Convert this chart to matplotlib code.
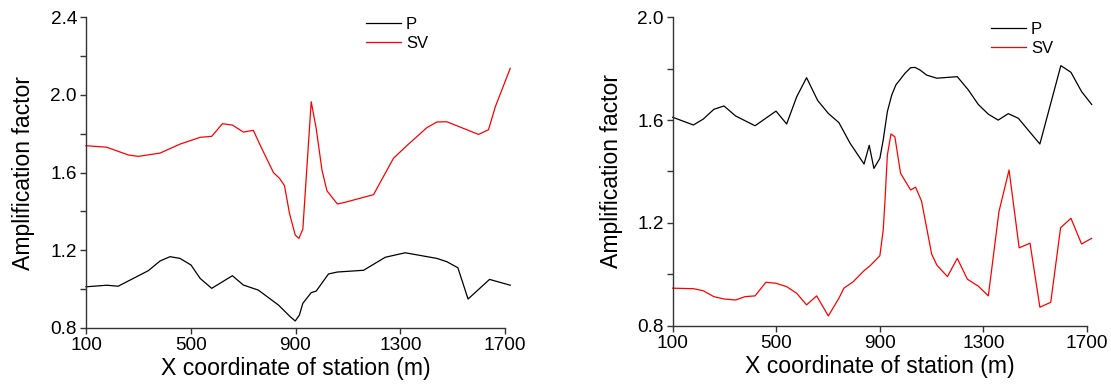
import numpy as np
import matplotlib
matplotlib.use('Agg')
import matplotlib.pyplot as plt
from matplotlib.ticker import MultipleLocator

plt.rcParams['font.family'] = ['Liberation Sans', 'DejaVu Sans']

# 左图数据
x_p1 = [100, 179, 223, 338, 383, 421, 459, 501, 536, 580, 659, 701, 758, 835, 880, 899,
        915, 928, 960, 979, 1026, 1060, 1160, 1243, 1319, 1440, 1478, 1520, 1559, 1641, 1720]
p1 = [1.012, 1.02, 1.015, 1.095, 1.145, 1.167, 1.158, 1.124, 1.055, 1.004, 1.069, 1.021, 0.995,
      0.918, 0.858, 0.836, 0.867, 0.927, 0.982, 0.99, 1.078, 1.088, 1.097, 1.164, 1.187, 1.158,
      1.141, 1.11, 0.949, 1.05, 1.02]
x_sv1 = [100, 179, 262, 300, 383, 459, 536, 580, 621, 659, 701, 739, 765, 816, 839, 858, 877,
         899, 913, 928, 960, 979, 1001, 1020, 1060, 1090, 1198, 1274, 1325, 1401, 1440, 1478,
         1599, 1637, 1663, 1720]
sv1 = [1.738, 1.73, 1.69, 1.683, 1.70, 1.746, 1.781, 1.786, 1.851, 1.844, 1.808, 1.817, 1.741,
       1.599, 1.57, 1.532, 1.39, 1.278, 1.261, 1.308, 1.964, 1.827, 1.613, 1.506, 1.438, 1.447,
       1.486, 1.673, 1.738, 1.83, 1.86, 1.861, 1.796, 1.82, 1.938, 2.136]

# 右图数据
x_p2 = [100, 180, 218, 259, 298, 343, 418, 499, 540, 579, 617, 660, 701, 742, 785, 839, 859,
        877, 900, 913, 929, 946, 962, 997, 1019, 1036, 1055, 1081, 1120, 1199, 1242, 1280, 1319,
        1357, 1396, 1435, 1473, 1518, 1599, 1638, 1679, 1718]
p2 = [1.611, 1.581, 1.604, 1.642, 1.655, 1.616, 1.578, 1.635, 1.585, 1.691, 1.765, 1.676, 1.626,
      1.59, 1.51, 1.429, 1.502, 1.412, 1.451, 1.523, 1.633, 1.698, 1.737, 1.782, 1.804, 1.805,
      1.795, 1.775, 1.763, 1.769, 1.717, 1.661, 1.623, 1.60, 1.625, 1.607, 1.561, 1.507, 1.812,
      1.786, 1.711, 1.661]
x_sv2 = [100, 180, 218, 259, 298, 343, 379, 418, 460, 499, 540, 579, 617, 656, 701, 742, 761,
         797, 839, 862, 900, 913, 920, 929, 943, 958, 980, 1019, 1038, 1061, 1100, 1120, 1161,
         1199, 1238, 1280, 1319, 1360, 1399, 1438, 1480, 1518, 1560, 1598, 1638, 1679, 1718]
sv2 = [0.946, 0.944, 0.936, 0.913, 0.904, 0.90, 0.913, 0.916, 0.969, 0.965, 0.952, 0.926, 0.881,
       0.916, 0.838, 0.907, 0.946, 0.971, 1.014, 1.033, 1.072, 1.172, 1.289, 1.464, 1.546, 1.535,
       1.393, 1.328, 1.339, 1.285, 1.079, 1.036, 0.991, 1.062, 0.981, 0.954, 0.916, 1.244, 1.406,
       1.103, 1.121, 0.872, 0.891, 1.181, 1.218, 1.118, 1.14]

xticks = [100, 500, 900, 1300, 1700]

W, H = 1111, 388
fig = plt.figure(figsize=(W / 100, H / 100), dpi=100)

def make_ax(l, r, b, t, ylim, yticks, ypad):
    ax = fig.add_axes([l / W, 1 - b / H, (r - l) / W, (b - t) / H])
    ax.set_xlim(100, 1700)
    ax.set_ylim(*ylim)
    ax.set_xticks(xticks)
    ax.set_yticks(yticks)
    ax.set_yticklabels(['%.1f' % v for v in yticks])
    ax.yaxis.set_minor_locator(MultipleLocator(0.2))
    for s in ['top', 'right']:
        ax.spines[s].set_visible(False)
    for s in ['left', 'bottom']:
        ax.spines[s].set_linewidth(1.0)
        ax.spines[s].set_color('#333333')
    ax.tick_params(which='both', direction='out', length=4.3, width=1.0, color='#333333',
                   labelsize=13.7, pad=2.2)
    ax.set_xlabel('X coordinate of station (m)', fontsize=16.6, labelpad=2.5)
    ax.set_ylabel('Amplification factor', fontsize=16.6, labelpad=ypad)
    return ax

ax1 = make_ax(86, 505, 328, 17, (0.8, 2.4), [0.8, 1.2, 1.6, 2.0, 2.4], 11)
ax1.plot(x_p1, p1, color='black', lw=0.9, label='P', clip_on=False)
ax1.plot(x_sv1, sv1, color='red', lw=0.9, label='SV', clip_on=False)

ax2 = make_ax(672.7, 1087, 325.7, 17.3, (0.8, 2.0), [0.8, 1.2, 1.6, 2.0], 10)
ax2.plot(x_p2, p2, color='black', lw=0.9, label='P', clip_on=False)
ax2.plot(x_sv2, sv2, color='red', lw=0.9, label='SV', clip_on=False)

# 图例位置 (像素)
for ax, lx, ly in [(ax1, 366, 17), (ax2, 991, 22)]:
    ax.legend(loc='upper left', bbox_to_anchor=(lx / W, 1 - ly / H), bbox_transform=fig.transFigure,
              frameon=False, fontsize=12, borderaxespad=0, borderpad=0, handlelength=2.1,
              handletextpad=0.3, labelspacing=0.25)

fig.savefig('out.png', dpi=100)
